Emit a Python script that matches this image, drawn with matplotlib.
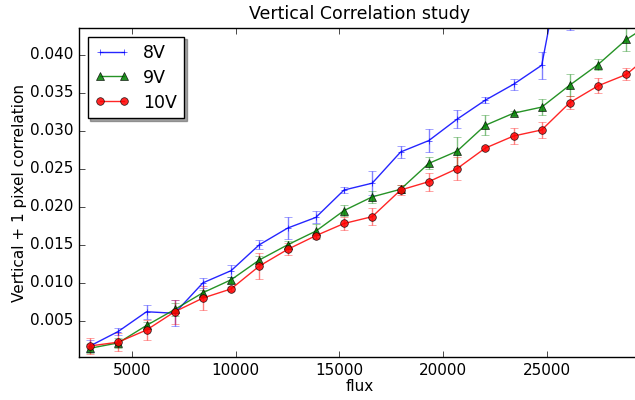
import numpy as np
import matplotlib
matplotlib.use('Agg')
import matplotlib.pyplot as plt

plt.style.use('classic')
plt.rcParams['font.family'] = ['DejaVu Sans']

# flux values of the flat pairs
flux = [2960, 4320, 5690, 7050, 8410, 9770, 11130, 12500, 13860, 15220,
        16580, 17950, 19310, 20670, 22030, 23400, 24760, 26120, 27480, 28850, 30210]

# 8V
corr_8v = [0.0017, 0.0036, 0.0062, 0.0060, 0.0100, 0.0116, 0.0150, 0.0172, 0.0186, 0.0222,
           0.0231, 0.0272, 0.0287, 0.0315, 0.0340, 0.0361, 0.0386, 0.0580]
err_8v = [0.0008, 0.0005, 0.0009, 0.0017, 0.0007, 0.0008, 0.0006, 0.0015, 0.0008, 0.0004,
          0.0016, 0.0008, 0.0015, 0.0012, 0.0004, 0.0007, 0.0018, 0.0148]

# 9V
corr_9v = [0.0014, 0.0021, 0.0044, 0.0065, 0.0087, 0.0104, 0.0130, 0.0150, 0.0168, 0.0195,
           0.0213, 0.0223, 0.0257, 0.0273, 0.0307, 0.0323, 0.0331, 0.0360, 0.0387, 0.0420, 0.0444]
err_9v = [0.0006, 0.0007, 0.0005, 0.0008, 0.0004, 0.0004, 0.0005, 0.0005, 0.0009, 0.0007,
          0.0008, 0.0005, 0.0008, 0.0019, 0.0013, 0.0003, 0.0011, 0.0015, 0.0007, 0.0015, 0.0010]

# 10V
corr_10v = [0.0017, 0.0022, 0.0038, 0.0062, 0.0080, 0.0092, 0.0122, 0.0144, 0.0162, 0.0178,
            0.0187, 0.0222, 0.0233, 0.0250, 0.0277, 0.0293, 0.0301, 0.0337, 0.0359, 0.0374, 0.0405]
err_10v = [0.0010, 0.0012, 0.0013, 0.0016, 0.0016, 0.0003, 0.0017, 0.0008, 0.0004, 0.0009,
           0.0011, 0.0007, 0.0012, 0.0015, 0.0003, 0.0011, 0.0010, 0.0008, 0.0010, 0.0008, 0.0008]

fig = plt.figure(figsize=(6.35, 4.0), dpi=100, facecolor='white')
ax = fig.add_axes([0.1244, 0.1075, 0.885, 0.8225])

series = [(corr_8v, err_8v, 'b', '+', '8V'),
          (corr_9v, err_9v, 'g', '^', '9V'),
          (corr_10v, err_10v, 'r', 'o', '10V')]

handles = []
for vals, errs, col, mk, lab in series:
    x = flux[:len(vals)]
    line, caps, bars = ax.errorbar(x, vals, yerr=errs, color=col, marker=mk,
                                   markersize=5.5 if mk != '+' else 5, capsize=3,
                                   linewidth=1.0, label=lab)
    line.set_alpha(0.85)
    for c in caps:
        c.set_alpha(0.5)
    for b in bars:
        b.set_alpha(0.5)
    handles.append(line)

ax.set_xlim(2430, 29550)
ax.set_ylim(0.00025, 0.0435)
ax.set_xticks([5000, 10000, 15000, 20000, 25000])
ax.set_yticks(np.arange(0.005, 0.0401, 0.005))
ax.yaxis.set_major_formatter(plt.FormatStrFormatter('%.3f'))
ax.tick_params(labelsize=11)

ax.set_title("Vertical Correlation study", fontsize=12.5, y=1.005)
ax.set_xlabel('flux', fontsize=11, labelpad=1)
ax.set_ylabel('Vertical + 1 pixel correlation', fontsize=11, labelpad=2)

leg = ax.legend(handles, ['8V', '9V', '10V'], loc='upper left', shadow=True,
                fancybox=False, numpoints=2, fontsize=12.5, handlelength=2.0,
                labelspacing=0.4)
leg.get_frame().set_edgecolor('black')

fig.savefig('out.png', dpi=100, facecolor='white')
